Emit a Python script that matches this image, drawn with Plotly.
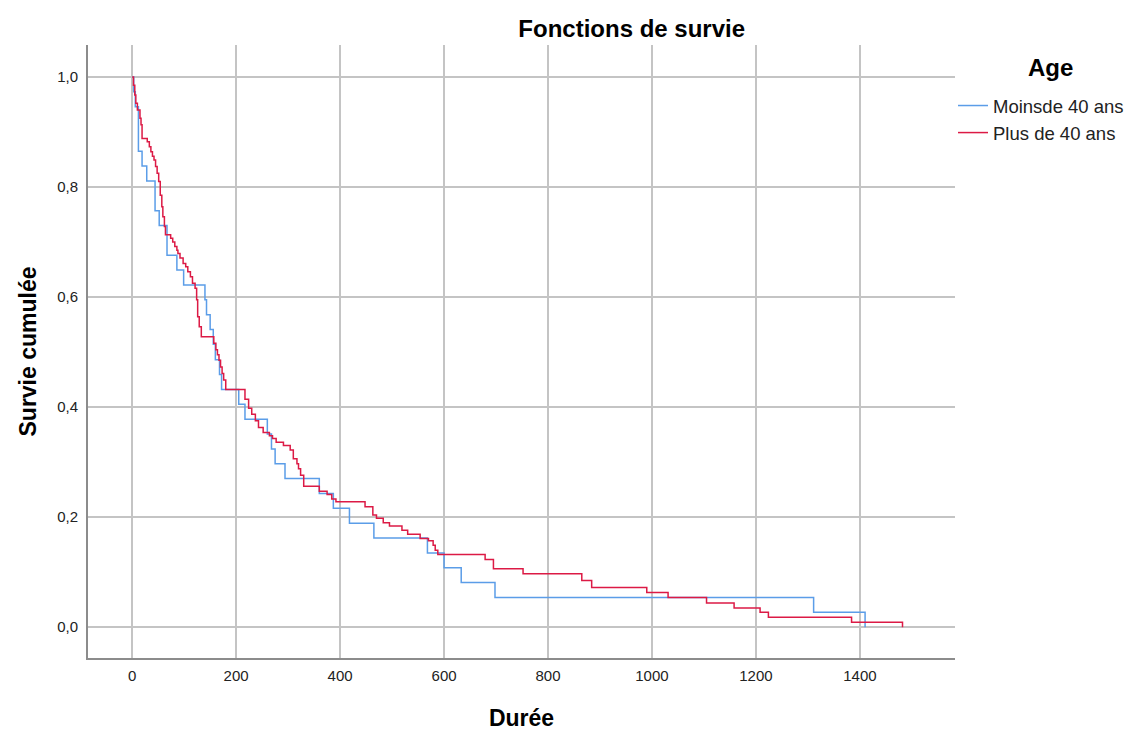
import plotly.graph_objects as go

# Kaplan-Meier step points (time, cumulative survival after the step)
moins_time = [0, 3, 6, 12, 19, 28, 44, 52, 67, 86, 99, 140, 143, 150, 156, 160, 168, 172,
              205, 217, 260, 268, 275, 294, 360, 387, 418, 465, 568, 600, 633, 698, 1311, 1410]
moins_surv = [1.0, 0.973, 0.946, 0.865, 0.838, 0.811, 0.757, 0.730, 0.676, 0.649, 0.622, 0.595,
              0.568, 0.541, 0.514, 0.486, 0.459, 0.432, 0.405, 0.378, 0.351, 0.324, 0.297, 0.270,
              0.243, 0.216, 0.189, 0.162, 0.135, 0.108, 0.081, 0.054, 0.027, 0.0]

plus_time = [0, 2.5, 5, 7, 10, 15, 17, 19, 29, 33, 36, 39, 42, 45, 48, 51, 54, 57, 59, 62, 64,
             74, 78, 82, 86, 88, 92, 98, 103, 107, 112, 116, 121, 124, 126, 129, 133,
             157, 161, 164, 167, 170, 173, 176, 180,
             217, 224, 230, 237, 243, 252, 264, 270, 277, 291, 304, 310, 317, 320, 324, 330,
             360, 375, 384, 392, 448, 463, 470, 483, 495, 519, 530, 554, 570, 579, 583, 588,
             679, 695, 752, 865, 884, 990, 1031, 1105, 1158, 1208, 1224, 1384, 1482]
plus_surv = [1.0, 0.985, 0.967, 0.952, 0.940, 0.925, 0.913, 0.888, 0.882, 0.873, 0.864, 0.856,
             0.849, 0.837, 0.825, 0.810, 0.785, 0.764, 0.746, 0.728, 0.713,
             0.707, 0.700, 0.692, 0.685, 0.679, 0.671, 0.661, 0.655, 0.646, 0.637, 0.625, 0.616,
             0.595, 0.564, 0.546, 0.528,
             0.516, 0.504, 0.495, 0.485, 0.473, 0.461, 0.449, 0.432,
             0.414, 0.398, 0.387, 0.375, 0.363, 0.354, 0.348, 0.343, 0.336, 0.330, 0.322, 0.306,
             0.297, 0.288, 0.276, 0.256,
             0.247, 0.241, 0.233, 0.228, 0.219, 0.204, 0.198, 0.190, 0.184, 0.176, 0.169, 0.161,
             0.157, 0.149, 0.140, 0.132,
             0.123, 0.106, 0.097, 0.085, 0.072, 0.063, 0.054, 0.044, 0.035, 0.027, 0.018, 0.009, 0.0]

x_ticks = [0, 200, 400, 600, 800, 1000, 1200, 1400]
y_ticks = [0.0, 0.2, 0.4, 0.6, 0.8, 1.0]

FONT = "Liberation Sans, Arial, sans-serif"

fig = go.Figure()
fig.add_trace(go.Scatter(x=moins_time, y=moins_surv, mode="lines", line_shape="hv",
                         name="Moinsde 40 ans", line=dict(color="#5B9DE8", width=1.5)))
fig.add_trace(go.Scatter(x=plus_time, y=plus_surv, mode="lines", line_shape="hv",
                         name="Plus de 40 ans", line=dict(color="#DC1A45", width=1.5)))

# page body has an 8px margin: figure is 1134x723 placed at (8, 8)
W, H, L, R, T, B = 1134, 723, 80, 187, 37, 73
PW, PH = W - L - R, H - T - B

fig.update_layout(
    width=W, height=H,
    margin=dict(l=L, r=R, t=T, b=B, autoexpand=False),
    paper_bgcolor="white", plot_bgcolor="white",
    separators=", ",
    font=dict(family=FONT, color="#222222"),
    title=dict(text="<b>Fonctions de survie</b>", font=dict(size=24, color="black"),
               x=0.550, xref="container", xanchor="center",
               y=0.972, yref="container", yanchor="middle"),
    xaxis=dict(range=[-85, 1583], tickvals=x_ticks, tickformat="d", automargin=False,
               showgrid=True, gridcolor="#C4C4C4", gridwidth=1.5,
               zeroline=False, showline=True, linecolor="#8C8C8C", linewidth=2,
               ticks="", ticklabelstandoff=3, tickfont=dict(size=15, color="#222222"),
               title=dict(text="<b>Durée</b>", font=dict(size=23, color="black"), standoff=27)),
    yaxis=dict(range=[-0.056, 1.058], tickvals=y_ticks, tickformat=".1f", automargin=False,
               showgrid=True, gridcolor="#C4C4C4", gridwidth=1.5,
               zeroline=False, showline=True, linecolor="#8C8C8C", linewidth=2,
               ticks="", ticklabelstandoff=5, tickfont=dict(size=15, color="#222222"),
               title=dict(text="<b>Survie cumulée</b>", font=dict(size=23, color="black"), standoff=14)),
    legend=dict(xref="container", x=945 / W, xanchor="left",
                yref="container", y=1 - 79 / H, yanchor="top",
                font=dict(size=18.5, color="#222222"), bgcolor="rgba(0,0,0,0)",
                tracegroupgap=0, itemwidth=30),
    annotations=[dict(text="<b>Age</b>", x=(1042 - L) / PW, y=1 - (60 - T) / PH,
                      xref="paper", yref="paper",
                      showarrow=False, font=dict(size=24, color="black"),
                      xanchor="center", yanchor="middle")],
)

fig.write_html("out.html")
